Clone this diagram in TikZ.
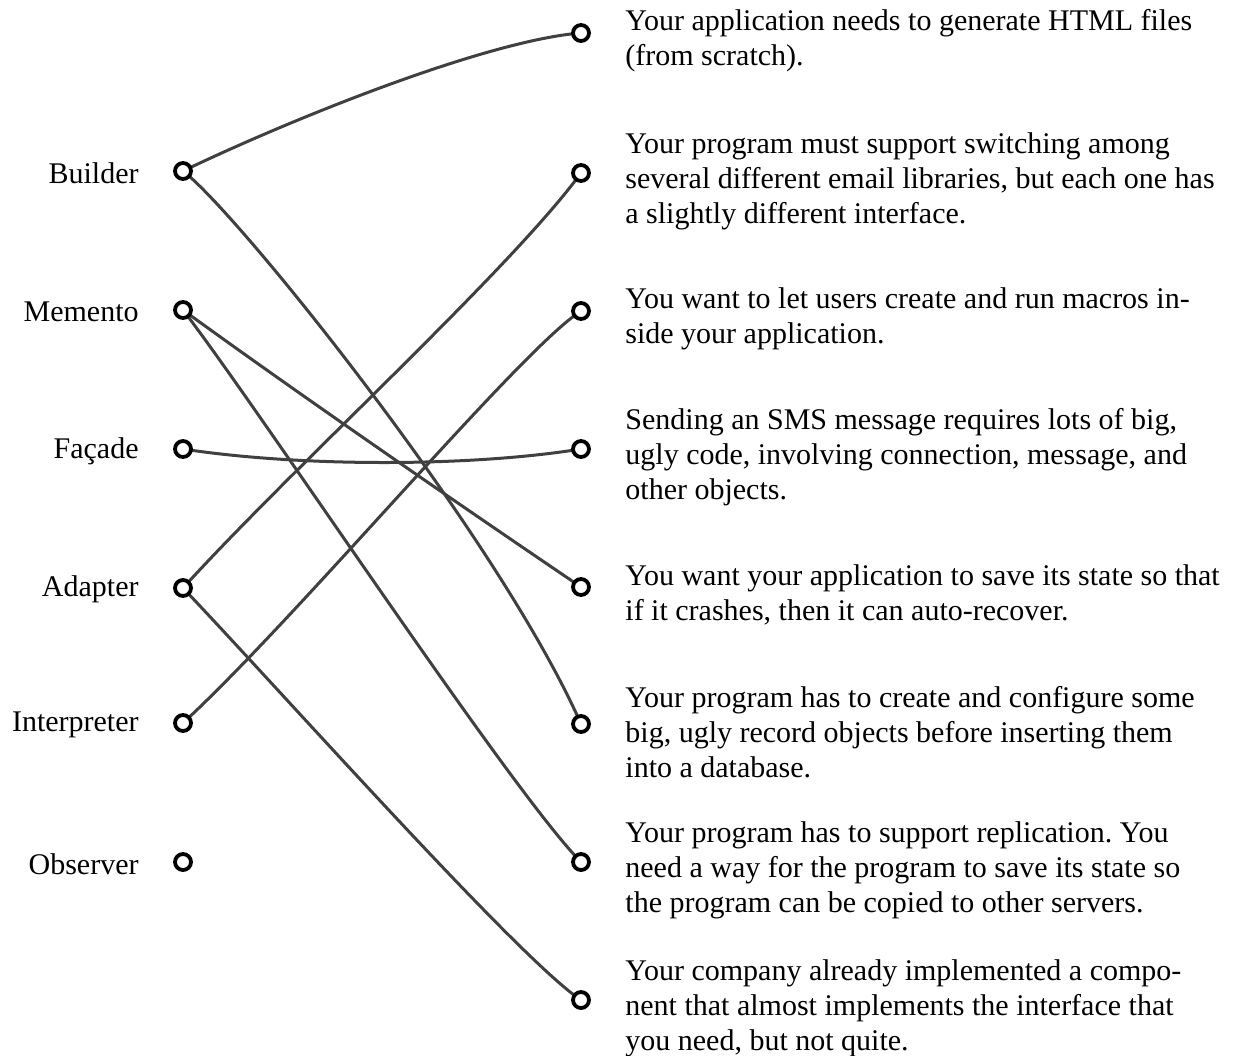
\documentclass[tikz,border=0pt]{standalone}
\usepackage{fontspec}
\setmainfont{Liberation Serif}
\frenchspacing
\begin{document}
\begin{tikzpicture}[x=0.5pt,y=-0.5pt,
    pin/.style={circle, draw=black, line width=1.9pt, minimum size=8pt, inner sep=0pt, fill=white},
    pattern/.style={anchor=east, inner sep=0pt, font=\fontsize{15}{17.5}\selectfont},
    need/.style={anchor=west, inner sep=0pt, align=left, font=\fontsize{15}{17.5}\selectfont},
    match/.style={draw=black!75, line width=1.5pt, line cap=round}]

    \useasboundingbox (0,0) rectangle (1241,1055);

    % pattern names
    \node[pattern] (lbld) at (139,173){Builder};
    \node[pattern] (lmem) at (139,312){Memento};
    \node[pattern] (lfac) at (139,451){Façade};
    \node[pattern] (ladp) at (139,589){Adapter};
    \node[pattern] (lint) at (139,725){Interpreter};
    \node[pattern] (lobs) at (139,864){Observer};

    % situations
    \node[need] (t1) at (625,41){Your application needs to generate HTML files\\(from scratch).};
    \node[need] (t2) at (625,181){Your program must support switching among\\several different email libraries, but each one has\\a slightly different interface.};
    \node[need] (t3) at (625,319){You want to let users create and run macros in-\\side your application.};
    \node[need] (t4) at (625,457){Sending an SMS message requires lots of big,\\ugly code, involving connection, message, and\\other objects.};
    \node[need] (t5) at (625,595){You want your application to save its state so that\\if it crashes, then it can auto-recover.};
    \node[need] (t6) at (625,732){Your program has to create and configure some\\big, ugly record objects before inserting them\\into a database.};
    \node[need] (t7) at (625,870){Your program has to support replication. You\\need a way for the program to save its state so\\the program can be copied to other servers.};
    \node[need] (t8) at (625,1008){Your company already implemented a compo-\\nent that almost implements the interface that\\you need, but not quite.};

    % the matches
    \coordinate (bld) at (183,171);
    \coordinate (mem) at (183,310);
    \coordinate (fac) at (183,449);
    \coordinate (adp) at (183,588);
    \coordinate (int) at (183,723);
    \coordinate (obs) at (183,862);
    \coordinate (r1) at (581,33);
    \coordinate (r2) at (581,173);
    \coordinate (r3) at (581,311);
    \coordinate (r4) at (581,449);
    \coordinate (r5) at (581,587);
    \coordinate (r6) at (581,724);
    \coordinate (r7) at (581,862);
    \coordinate (r8) at (581,1000);

    \draw[match] (bld) .. controls (300,115) and (490,40) .. (r1);
    \draw[match] (bld) .. controls (240,215) and (500,540) .. (r6);
    \draw[match] (mem) .. controls (300,395) and (460,505) .. (r5);
    \draw[match] (mem) .. controls (260,410) and (510,790) .. (r7);
    \draw[match] (fac) .. controls (300,467) and (470,467) .. (r4);
    \draw[match] (adp) .. controls (290,470) and (510,270) .. (r2);
    \draw[match] (adp) .. controls (280,690) and (520,960) .. (r8);
    \draw[match] (int) .. controls (300,615) and (520,350) .. (r3);

    % pins
    \foreach \p in {bld,mem,fac,adp,int,obs,r1,r2,r3,r4,r5,r6,r7,r8}
        \node[pin] (pin-\p) at (\p){};

\end{tikzpicture}
\end{document}
